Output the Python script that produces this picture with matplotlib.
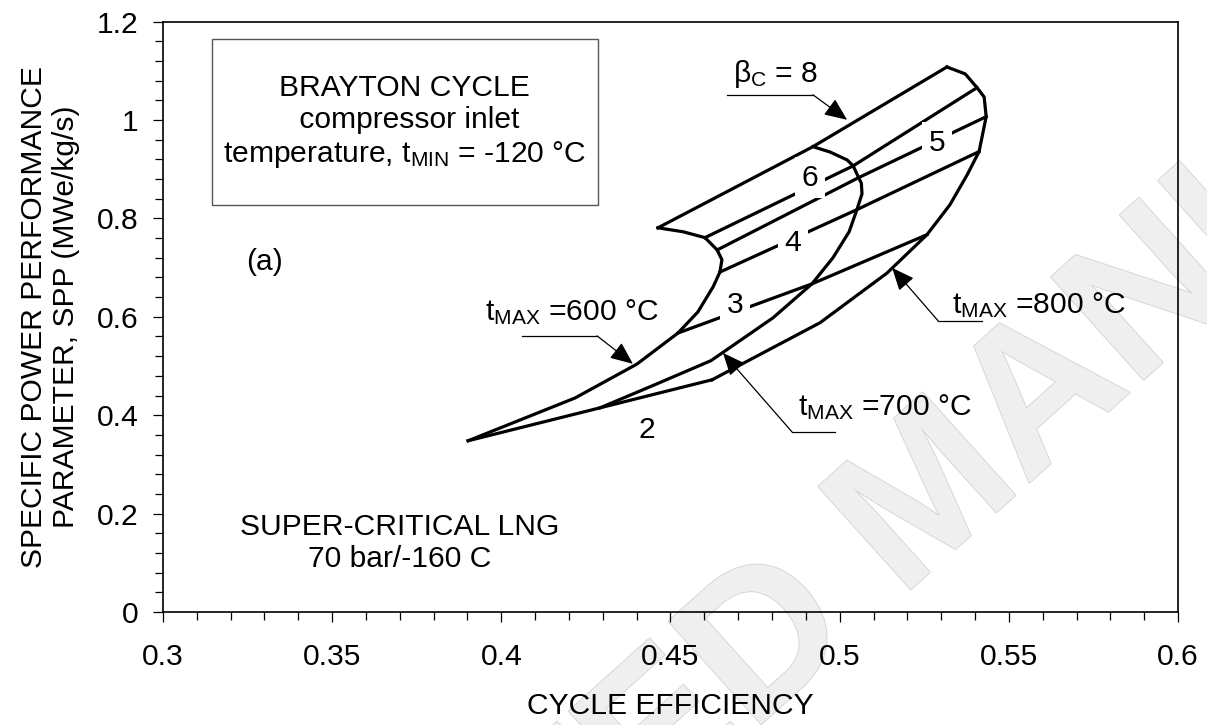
import numpy as np
import matplotlib
matplotlib.use('Agg')
import matplotlib.pyplot as plt
import matplotlib.patheffects as pe
from matplotlib.patches import Rectangle
from matplotlib.ticker import MultipleLocator, FormatStrFormatter

plt.rcParams['font.family'] = ['Liberation Sans', 'DejaVu Sans']
plt.rcParams['mathtext.fontset'] = 'custom'
plt.rcParams['mathtext.rm'] = 'Liberation Sans'
plt.rcParams['mathtext.it'] = 'Liberation Sans:italic'

# constant t_MAX curves (cycle efficiency, SPP), from beta_C = 2 up to 8
t600_eff = [0.3902, 0.4218, 0.4401, 0.4522, 0.4581, 0.4626, 0.4646, 0.4652, 0.4638, 0.4602, 0.4537, 0.4463]
t600_spp = [0.348, 0.435, 0.504, 0.567, 0.610, 0.661, 0.691, 0.716, 0.736, 0.761, 0.773, 0.781]

t700_eff = [0.4292, 0.4454, 0.4620, 0.4803, 0.4918, 0.4980, 0.5028, 0.5051, 0.5066, 0.5064, 0.5056, 0.5040, 0.5022, 0.4972, 0.4921]
t700_spp = [0.415, 0.462, 0.511, 0.598, 0.667, 0.720, 0.773, 0.818, 0.850, 0.872, 0.883, 0.907, 0.919, 0.935, 0.946]

t800_eff = [0.4623, 0.4942, 0.5140, 0.5258, 0.5326, 0.5377, 0.5412, 0.5433, 0.5427, 0.5406, 0.5371, 0.5317]
t800_spp = [0.472, 0.588, 0.689, 0.767, 0.828, 0.889, 0.936, 1.007, 1.047, 1.066, 1.094, 1.108]

# constant compressor pressure ratio lines: points on t600, t700, t800
beta_vals = ['2', '3', '4', '5', '6', '8']
beta_eff = [[0.3902, 0.4292, 0.4623],
            [0.4522, 0.4918, 0.5258],
            [0.4646, 0.5051, 0.5412],
            [0.4638, 0.5056, 0.5433],
            [0.4602, 0.5040, 0.5406],
            [0.4463, 0.4921, 0.5317]]
beta_spp = [[0.348, 0.415, 0.472],
            [0.567, 0.667, 0.767],
            [0.691, 0.818, 0.936],
            [0.736, 0.883, 1.007],
            [0.761, 0.907, 1.066],
            [0.781, 0.946, 1.108]]

xticks = [0.3, 0.35, 0.4, 0.45, 0.5, 0.55, 0.6]
yticks = [0, 0.2, 0.4, 0.6, 0.8, 1.0, 1.2]

fs = 21.6
fig = plt.figure(figsize=(12.07, 7.25), dpi=100)
ax = fig.add_axes([0.135, 0.156, 0.841, 0.814])

# watermark
ax.text(0.773, 0.310, 'ACCEPTED MANUSCRIPT', transform=fig.transFigure,
        rotation=42, fontsize=145, fontweight='bold', color='#efefef',
        ha='center', va='center', rotation_mode='anchor', zorder=0.5, clip_on=False,
        path_effects=[pe.Stroke(linewidth=1.2, foreground='#d2d2d2'), pe.Normal()])

lw = 2.3
for ex, sp in [(t600_eff, t600_spp), (t700_eff, t700_spp), (t800_eff, t800_spp)]:
    ax.plot(ex, sp, color='k', lw=lw, solid_joinstyle='round', zorder=3)
for ex, sp in zip(beta_eff, beta_spp):
    ax.plot(ex, sp, color='k', lw=lw, solid_joinstyle='round', zorder=3)

# beta labels sitting on the lines
lab_pos = {'2': (0.4431, 0.370), '3': (0.4691, 0.624), '4': (0.4862, 0.750),
           '5': (0.5288, 0.954), '6': (0.4912, 0.883)}
for k, (x, y) in lab_pos.items():
    ax.text(x, y, k, ha='center', va='center', fontsize=fs, zorder=5,
            bbox=dict(boxstyle='square,pad=0.22', fc='white', ec='none'))

# leader annotations
def leader(text, txy, h0, h1, tip):
    ax.text(txy[0], txy[1], text, ha='left', va='baseline', fontsize=fs, zorder=6)
    ax.plot([h0[0], h1[0]], [h0[1], h1[1]], color='k', lw=0.9, zorder=6)
    ax.annotate('', xy=tip, xytext=h1,
                arrowprops=dict(arrowstyle='-|>,head_length=0.7,head_width=0.3',
                                color='k', lw=0.9, shrinkA=0, shrinkB=0,
                                mutation_scale=20), zorder=6)

leader(r'β$_\mathregular{C}$ = 8', (0.4685, 1.078), (0.4667, 1.0515), (0.4921, 1.0515), (0.5022, 1.0006))
leader(r't$_\mathregular{MAX}$ =600 °C', (0.3952, 0.594), (0.4061, 0.5613), (0.4283, 0.5613), (0.4389, 0.5044))
leader(r't$_\mathregular{MAX}$ =700 °C', (0.4877, 0.4007), (0.4986, 0.3661), (0.4859, 0.3661), (0.4655, 0.5267))
leader(r't$_\mathregular{MAX}$ =800 °C', (0.5332, 0.608), (0.5421, 0.5918), (0.5291, 0.5918), (0.5155, 0.6996))

# info box
ax.add_patch(Rectangle((0.3145, 0.828), 0.1141, 0.337, fill=False, ec='#555555', lw=1.0, zorder=4))
ax.text(0.3715, 0.996, 'BRAYTON CYCLE\n compressor inlet\ntemperature, t$_\\mathregular{MIN}$ = -120 °C',
        ha='center', va='center', fontsize=fs, linespacing=1.2, zorder=5)
ax.text(0.3301, 0.712, '(a)', ha='center', va='center', fontsize=fs)
ax.text(0.370, 0.140, 'SUPER-CRITICAL LNG\n70 bar/-160 C', ha='center', va='center',
        fontsize=fs, linespacing=1.2)

ax.set_xlim(0.3, 0.6)
ax.set_ylim(0, 1.2)
ax.set_xticks(xticks)
ax.set_yticks(yticks)
ax.xaxis.set_major_formatter(FormatStrFormatter('%g'))
ax.yaxis.set_major_formatter(FormatStrFormatter('%g'))
ax.xaxis.set_minor_locator(MultipleLocator(0.01))
ax.yaxis.set_minor_locator(MultipleLocator(0.04))
ax.tick_params(which='both', direction='out', width=0.9, labelsize=fs)
ax.tick_params(which='major', length=7.5)
ax.tick_params(which='minor', length=5.5)
ax.tick_params(axis='x', pad=15)
ax.tick_params(axis='y', pad=10)
for s in ax.spines.values():
    s.set_linewidth(1.2)

ax.set_xlabel('CYCLE EFFICIENCY', fontsize=fs, labelpad=15)
ax.set_ylabel('SPECIFIC POWER PERFORMANCE\nPARAMETER, SPP (MWe/kg/s)', fontsize=fs, labelpad=12)

fig.savefig('out.png', dpi=100)
